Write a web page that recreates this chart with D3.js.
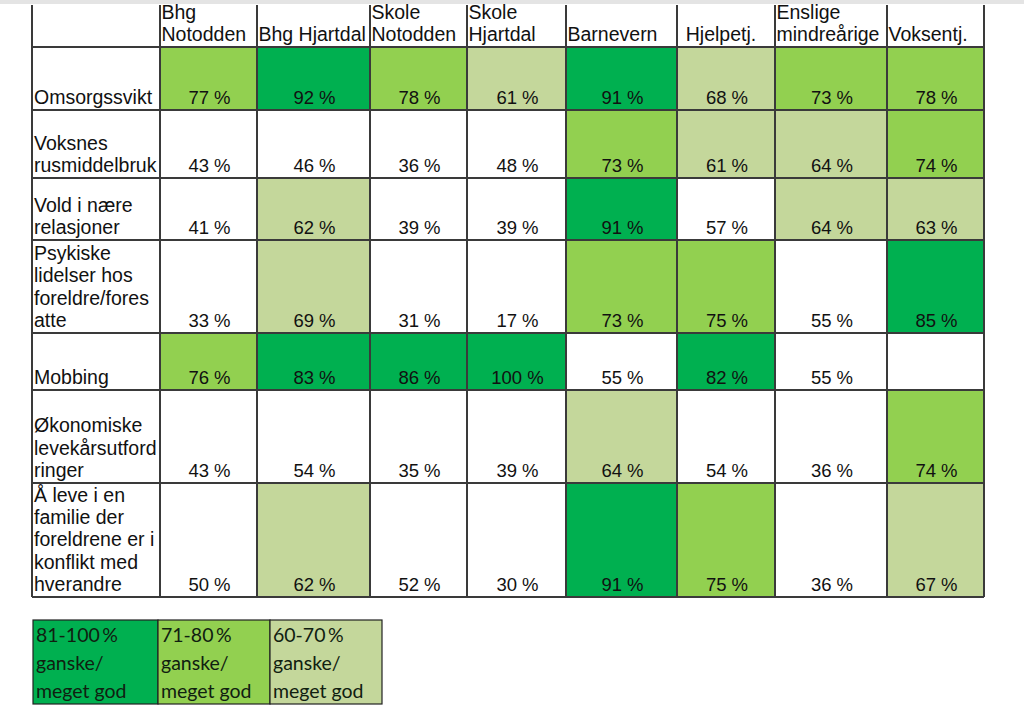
<!DOCTYPE html>
<html>
<head>
<meta charset="utf-8">
<script src="https://cdn.jsdelivr.net/npm/d3@7"></script>
<style>
html,body{margin:0;padding:0;background:#fff;}
svg{display:block;}
</style>
</head>
<body>
<svg id="chart" width="1024" height="722"></svg>
<script>
// ---- data ----
const columns = ["Bhg Notodden","Bhg Hjartdal","Skole Notodden","Skole Hjartdal","Barnevern","Hjelpetj.","Enslige mindreårige","Voksentj."];
const columnLines = [["Bhg","Notodden"],["Bhg Hjartdal"],["Skole","Notodden"],["Skole","Hjartdal"],["Barnevern"],["Hjelpetj."],["Enslige","mindreårige"],["Voksentj."]];
const rows = ["Omsorgssvikt","Voksnes rusmiddelbruk","Vold i nære relasjoner","Psykiske lidelser hos foreldre/foresatte","Mobbing","Økonomiske levekårsutfordringer","Å leve i en familie der foreldrene er i konflikt med hverandre"];
const rowLines = [
  ["Omsorgssvikt"],
  ["Voksnes","rusmiddelbruk"],
  ["Vold i nære","relasjoner"],
  ["Psykiske","lidelser hos","foreldre/fores","atte"],
  ["Mobbing"],
  ["Økonomiske","levekårsutford","ringer"],
  ["Å leve i en","familie der","foreldrene er i","konflikt med","hverandre"]
];
const omsorgssvikt   = [77,92,78,61,91,68,73,78];
const rusmiddelbruk  = [43,46,36,48,73,61,64,74];
const vold           = [41,62,39,39,91,57,64,63];
const psykiske       = [33,69,31,17,73,75,55,85];
const mobbing        = [76,83,86,100,55,82,55,null];
const okonomiske     = [43,54,35,39,64,54,36,74];
const konflikt       = [50,62,52,30,91,75,36,67];
const values = [omsorgssvikt,rusmiddelbruk,vold,psykiske,mobbing,okonomiske,konflikt];
const legendLabels = [["81-100 %","ganske/","meget god"],["71-80 %","ganske/","meget god"],["60-70 %","ganske/","meget god"]];
const thresholds = [60,71,81];

// ---- layout ----
const colColors = ["#ffffff","#c4d79b","#92d050","#00b050"];
const color = d3.scaleThreshold().domain(thresholds).range(colColors);
const labelColWidth = 128, tableLeft = 32;
const colWidths = [97,113,97,99,111,98,112,97];
const headerTop = 5, headerH = 42;
const rowHeights = [63,68,62,93,57,93,114];

const colEdges = [tableLeft, tableLeft+labelColWidth];
colWidths.forEach(w=>colEdges.push(colEdges[colEdges.length-1]+w));
const rowEdges = [headerTop+headerH];
rowHeights.forEach(h=>rowEdges.push(rowEdges[rowEdges.length-1]+h));
const x = d3.scaleOrdinal().domain(columns).range(colEdges.slice(1,-1));
const cw = d3.scaleOrdinal().domain(columns).range(colWidths);
const y = d3.scaleOrdinal().domain(rows).range(rowEdges.slice(0,-1));
const rh = d3.scaleOrdinal().domain(rows).range(rowHeights);
const tableRight = colEdges[colEdges.length-1];
const tableBottom = rowEdges[rowEdges.length-1];

const svg = d3.select("#chart");
const font = "'Liberation Sans', Arial, sans-serif";
const fs = 18.5, fsLab = 19.5, lh = 22.3;

// top gray band
svg.append("rect").attr("x",0).attr("y",0).attr("width",1024).attr("height",4).attr("fill","#e4e4e4");

// cells
const cells = [];
rows.forEach((r,i)=>columns.forEach((c,j)=>cells.push({r,c,v:values[i][j]})));
svg.append("g").selectAll("rect").data(cells).join("rect")
  .attr("x",d=>x(d.c)).attr("y",d=>y(d.r))
  .attr("width",d=>cw(d.c)).attr("height",d=>rh(d.r))
  .attr("fill",d=>d.v==null?"#fff":color(d.v));

// values
svg.append("g").selectAll("text").data(cells.filter(d=>d.v!=null)).join("text")
  .attr("x",d=>x(d.c)+cw(d.c)/2+1).attr("y",d=>y(d.r)+rh(d.r)-6)
  .attr("text-anchor","middle").attr("font-family",font).attr("font-size",fs).attr("fill","#111")
  .text(d=>d.v+" %");

// grid lines
const g = svg.append("g").attr("stroke","#3a3a3a").attr("stroke-width",1.2).attr("shape-rendering","crispEdges");
rowEdges.forEach(e=>g.append("line").attr("x1",tableLeft).attr("x2",tableRight).attr("y1",e).attr("y2",e));
colEdges.forEach(e=>g.append("line").attr("x1",e).attr("x2",e).attr("y1",headerTop).attr("y2",tableBottom));

// row labels
rows.forEach((r,i)=>{
  const lines = rowLines[i];
  const t = svg.append("text").attr("font-family",font).attr("font-size",fsLab).attr("fill","#111");
  lines.forEach((ln,k)=>{
    t.append("tspan").attr("x",tableLeft+2)
     .attr("y",y(r)+rh(r)-6-(lines.length-1-k)*lh).text(ln);
  });
});

// headers
const headerAlign = ["start","start","start","start","start","middle","start","start"];
columns.forEach((c,j)=>{
  const lines = columnLines[j];
  const t = svg.append("text").attr("font-family",font).attr("font-size",fsLab).attr("fill","#111")
    .attr("text-anchor",headerAlign[j]);
  const xx = headerAlign[j]==="middle" ? x(c)+cw(c)/2-5 : x(c)+1.5;
  lines.forEach((ln,k)=>{
    t.append("tspan").attr("x",xx)
     .attr("y",headerTop+headerH-6-(lines.length-1-k)*lh).text(ln);
  });
});

// legend
const legX = [33,158,270,382], legY = 620, legH = 84;
const lg = svg.append("g");
legendLabels.forEach((lab,i)=>{
  lg.append("rect").attr("x",legX[i]).attr("y",legY).attr("width",legX[i+1]-legX[i]).attr("height",legH)
    .attr("fill",color(thresholds[2-i])).attr("stroke","#222").attr("stroke-width",1.2);
  const t = lg.append("text").attr("font-family","Lato, 'Open Sans', sans-serif").attr("font-size",19.5)
    .attr("fill","#102010");
  lab.forEach((ln,k)=>t.append("tspan").attr("x",legX[i]+3).attr("y",legY+22+k*28)
    .attr("word-spacing",k===0?-2.5:0).text(ln));
});
</script>
</body>
</html>
